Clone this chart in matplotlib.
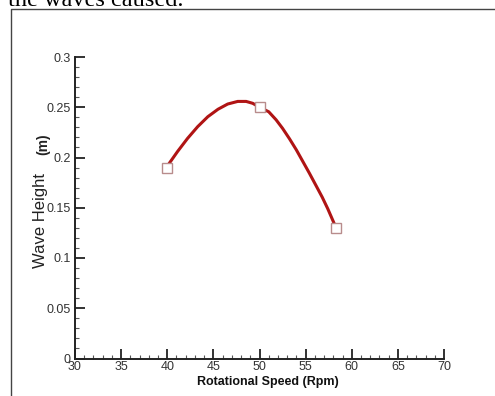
import matplotlib
matplotlib.use("Agg")
import matplotlib.pyplot as plt
from matplotlib.lines import Line2D
from matplotlib.ticker import MultipleLocator, FormatStrFormatter

plt.rcParams['font.family'] = ['Liberation Sans', 'DejaVu Sans']

# measured points (markers)
speed = [40, 50, 58.3]
height = [0.19, 0.25, 0.13]

# smooth fitted curve
curve_speed = [40, 40.2, 41.12, 42.2, 43.3, 44.4, 45.5, 46.55, 47.64, 48.55, 49.27, 50,
               51.0, 51.8, 52.5, 53.26, 54.0, 54.7, 55.4, 56.16, 56.8, 57.4, 58.3]
curve_height = [0.19, 0.194, 0.206, 0.219, 0.2307, 0.2406, 0.248, 0.2532, 0.2558, 0.2558,
                 0.2539, 0.25, 0.2455, 0.2375, 0.229, 0.2185, 0.2075, 0.196, 0.1845,
                 0.1715, 0.1605, 0.149, 0.13]

xticks = [30, 35, 40, 45, 50, 55, 60, 65, 70]
yticks = [0, 0.05, 0.1, 0.15, 0.2, 0.25, 0.3]

fig = plt.figure(figsize=(4.95, 3.96), dpi=100)
ax = fig.add_axes([75 / 495, 1 - 358.5 / 396, 369 / 495, 301.5 / 396])

ax.plot(curve_speed, curve_height, color='#b01414', lw=2.2, solid_capstyle='round',
        solid_joinstyle='round', zorder=2)
ax.plot(speed, height, ls='none', marker='s', ms=7, mfc='white', mec='#b88c8c', mew=1.0, zorder=3)

ax.set_xlim(30, 70)
ax.set_ylim(0, 0.3)
ax.set_xticks(xticks)
ax.set_yticks(yticks)
ax.xaxis.set_minor_locator(MultipleLocator(1))
ax.yaxis.set_minor_locator(MultipleLocator(0.01))
ax.yaxis.set_major_formatter(FormatStrFormatter('%g'))

for side in ['top', 'right']:
    ax.spines[side].set_visible(False)
for side in ['left', 'bottom']:
    ax.spines[side].set_linewidth(1.4)
    ax.spines[side].set_color('#222222')

ax.tick_params(which='major', direction='in', length=7, width=1.3, colors='#222222',
               labelsize=9, labelcolor='#333333')
ax.tick_params(which='minor', direction='in', length=3, width=0.8, colors='#555555')
ax.tick_params(axis='y', which='major', pad=3)
ax.tick_params(axis='x', which='major', pad=2)

# axis titles
fig.text(268 / 495, 1 - 382 / 396, 'Rotational Speed (Rpm)', ha='center', va='center',
         fontsize=9, fontweight='bold', color='#111111')
fig.text(40 / 495, 1 - 220 / 396, 'Wave Height', rotation=90, ha='center', va='center',
         fontsize=12, color='#222222')
fig.text(43 / 495, 1 - 144 / 396, '(m)', rotation=90, ha='center', va='center',
         fontsize=10, fontweight='bold', color='#222222')

# frame of the surrounding page and the cut-off caption line
fig.add_artist(Line2D([11 / 495, 11 / 495, 1.0], [0.0, 1 - 9 / 396, 1 - 9 / 396],
                      transform=fig.transFigure, color='#444444', lw=1.0))
fig.text(8 / 495, 1 - 6 / 396, 'the waves caused.', ha='left', va='baseline',
         fontsize=17.5, family=['Liberation Serif', 'DejaVu Serif'], color='black')

fig.savefig('out.png', dpi=100)
